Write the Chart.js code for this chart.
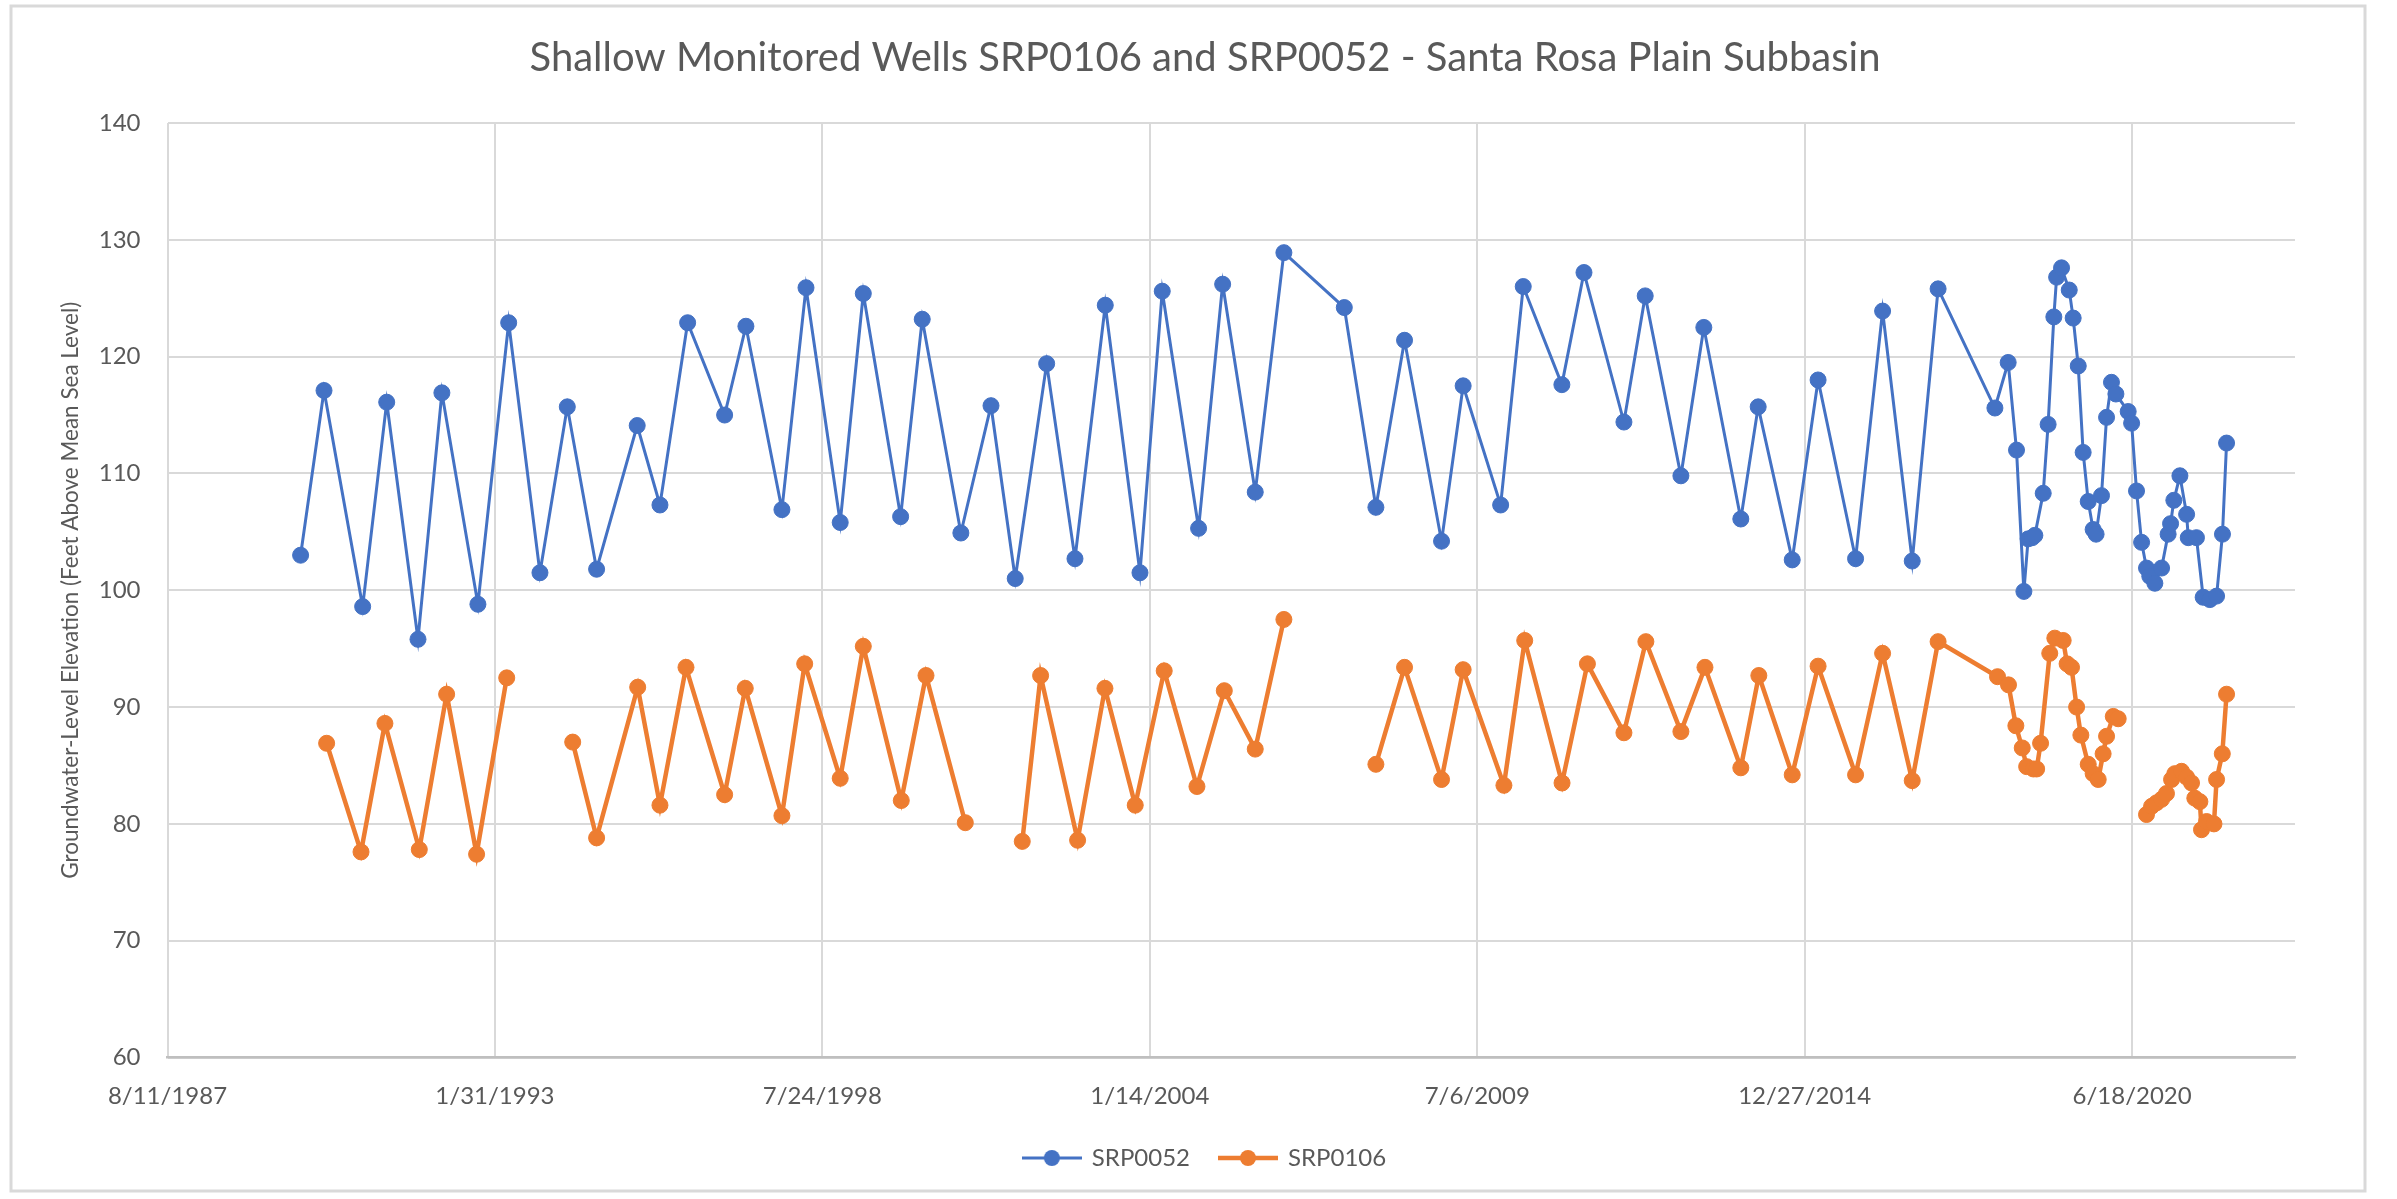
<!DOCTYPE html>
<html>
<head>
<meta charset="utf-8">
<script src="https://cdn.jsdelivr.net/npm/chart.js@4.4.1/dist/chart.umd.min.js"></script>
<style>
html,body{margin:0;padding:0;background:#fff;}
#wrap{width:2397px;height:1199px;position:relative;}
</style>
</head>
<body>
<div id="wrap"><canvas id="c" width="2397" height="1199"></canvas></div>
<script>
const chartTitle = 'Shallow Monitored Wells SRP0106 and SRP0052 - Santa Rosa Plain Subbasin';
const yAxisTitle = 'Groundwater-Level Elevation (Feet Above Mean Sea Level)';
const seriesNames = ['SRP0052', 'SRP0106'];

const xTickDates = ['1987-08-11','1993-01-31','1998-07-24','2004-01-14','2009-07-06','2014-12-27','2020-06-18'];
const xAxisStart = '1987-08-11';
const xAxisEnd = '2023-03-10';
const yMin = 60, yMax = 140, yStep = 10;

const dates0052 = ['1989-11-01','1990-03-24','1990-11-15','1991-04-11','1991-10-19','1992-03-13','1992-10-19','1993-04-25','1993-11-02','1994-04-18',
'1994-10-14','1995-06-19','1995-11-05','1996-04-22','1996-12-04','1997-04-13','1997-11-19','1998-04-15','1998-11-10','1999-03-31',
'1999-11-14','2000-03-25','2000-11-16','2001-05-19','2001-10-14','2002-04-24','2002-10-14','2003-04-17','2003-11-15','2004-03-30',
'2004-11-07','2005-04-03','2005-10-19','2006-04-12','2007-04-16','2007-10-26','2008-04-18','2008-11-30','2009-04-11','2009-11-26',
'2010-04-13','2010-12-05','2011-04-19','2011-12-19','2012-04-27','2012-12-01','2013-04-20','2013-12-02','2014-03-18','2014-10-12',
'2015-03-19','2015-11-03','2016-04-16','2016-10-14','2017-03-21','2018-03-03','2018-05-23','2018-07-13','2018-08-27','2018-09-22',
'2018-10-17','2018-11-02','2018-12-23','2019-01-22','2019-02-26','2019-03-15','2019-04-14','2019-05-31','2019-06-24','2019-07-25',
'2019-08-24','2019-09-24','2019-10-24','2019-11-11','2019-12-14','2020-01-14','2020-02-13','2020-03-11','2020-05-25','2020-06-15',
'2020-07-15','2020-08-15','2020-09-14','2020-10-04','2020-11-04','2020-12-15','2021-01-24','2021-02-08','2021-02-28','2021-04-06',
'2021-05-17','2021-05-27','2021-07-16','2021-08-26','2021-10-06','2021-11-16','2021-12-22','2022-01-16'];
const srp0052 = [103.0,117.1,98.6,116.1,95.8,116.9,98.8,122.9,101.5,115.7,
101.8,114.1,107.3,122.9,115.0,122.6,106.9,125.9,105.8,125.4,
106.3,123.2,104.9,115.8,101.0,119.4,102.7,124.4,101.5,125.6,
105.3,126.2,108.4,128.9,124.2,107.1,121.4,104.2,117.5,107.3,
126.0,117.6,127.2,114.4,125.2,109.8,122.5,106.1,115.7,102.6,
118.0,102.7,123.9,102.5,125.8,115.6,119.5,112.0,99.9,104.4,
104.5,104.7,108.3,114.2,123.4,126.8,127.6,125.7,123.3,119.2,
111.8,107.6,105.2,104.8,108.1,114.8,117.8,116.8,115.3,114.3,
108.5,104.1,101.9,101.2,100.6,101.9,104.8,105.7,107.7,109.8,
106.5,104.5,104.5,99.4,99.2,99.5,104.8,112.6];

const dates0106 = ['1990-04-09','1990-11-05','1991-03-31','1991-10-27','1992-04-11','1992-10-11','1993-04-13','1993-11-02','1994-05-21','1994-10-14',
'1995-06-22','1995-11-05','1996-04-12','1996-12-04','1997-04-09','1997-11-19','1998-04-07','1998-11-10','1999-03-31','1999-11-18',
'2000-04-17','2000-12-13','2001-05-19','2001-11-26','2002-03-18','2002-10-30','2003-04-15','2003-10-17','2004-04-11','2004-10-28',
'2005-04-13','2005-10-19','2006-04-12','2007-04-16','2007-10-26','2008-04-18','2008-11-30','2009-04-11','2009-12-16','2010-04-22',
'2010-12-06','2011-05-10','2011-12-19','2012-05-01','2012-12-01','2013-04-27','2013-12-02','2014-03-22','2014-10-12','2015-03-19',
'2015-11-03','2016-04-16','2016-10-14','2017-03-21','2018-03-19','2018-05-25','2018-07-09','2018-08-17','2018-09-13','2018-10-24',
'2018-11-13','2018-12-07','2019-02-01','2019-03-04','2019-04-24','2019-05-18','2019-06-14','2019-07-15','2019-08-10','2019-09-24',
'2019-10-24','2019-11-24','2019-12-24','2020-01-14','2020-02-24','2020-03-25','2020-06-15','2020-09-14','2020-10-15','2020-11-14',
'2020-12-15','2021-01-14','2021-02-14','2021-03-06','2021-04-16','2021-05-17','2021-06-16','2021-07-06','2021-08-06','2021-08-16',
'2021-09-16','2021-10-31','2021-11-16','2021-12-21','2022-01-16'];
const srp0106 = [86.9,77.6,88.6,77.8,91.1,77.4,92.5,null,87.0,78.8,
91.7,81.6,93.4,82.5,91.6,80.7,93.7,83.9,95.2,82.0,
92.7,80.1,null,78.5,92.7,78.6,91.6,81.6,93.1,83.2,
91.4,86.4,97.5,null,85.1,93.4,83.8,93.2,83.3,95.7,
83.5,93.7,87.8,95.6,87.9,93.4,84.8,92.7,84.2,93.5,
84.2,94.6,83.7,95.6,92.6,91.9,88.4,86.5,84.9,84.7,
84.7,86.9,94.6,95.9,95.7,93.7,93.4,90.0,87.6,85.1,
84.3,83.8,86.0,87.5,89.2,89.0,null,80.8,81.5,81.8,
82.1,82.6,83.8,84.3,84.5,84.0,83.5,82.2,81.9,79.5,
80.2,80.0,83.8,86.0,91.1];

const colors = ['#4472C4', '#ED7D31'];
const lineWidths = [3, 4.5];
const textColor = '#595959';
const fontFamily = 'Lato, "Open Sans", "Liberation Sans", sans-serif';

function toDay(s) { const p = s.split('-').map(Number); return Date.UTC(p[0], p[1] - 1, p[2]) / 86400000; }
function fmtDay(v) { const d = new Date(Math.round(v) * 86400000); return (d.getUTCMonth() + 1) + '/' + d.getUTCDate() + '/' + d.getUTCFullYear(); }
function pts(dates, vals) { return dates.map((d, i) => ({ x: toDay(d), y: vals[i] })); }

function legendMarker(color, lw) {
  const c = document.createElement('canvas');
  c.width = 60; c.height = 20;
  const g = c.getContext('2d');
  g.strokeStyle = color; g.lineWidth = lw;
  g.beginPath(); g.moveTo(0, 10); g.lineTo(60, 10); g.stroke();
  g.fillStyle = color; g.beginPath(); g.arc(30, 10, 8, 0, Math.PI * 2); g.fill();
  return c;
}

const framePlugin = {
  id: 'frame',
  beforeDraw(chart) {
    const g = chart.ctx;
    g.save();
    g.fillStyle = '#ffffff';
    g.fillRect(0, 0, chart.width, chart.height);
    g.strokeStyle = '#d9d9d9';
    g.lineWidth = 3;
    g.strokeRect(11, 6, 2354, 1185);
    g.restore();
  }
};

function draw() {
  const markers = [legendMarker(colors[0], lineWidths[0]), legendMarker(colors[1], lineWidths[1])];
  new Chart(document.getElementById('c'), {
    type: 'line',
    data: {
      datasets: [
        { label: seriesNames[0], data: pts(dates0052, srp0052), borderColor: colors[0], backgroundColor: colors[0],
          borderWidth: lineWidths[0], pointRadius: 8, pointBorderWidth: 1, pointBackgroundColor: colors[0], pointBorderColor: colors[0],
          tension: 0, spanGaps: true },
        { label: seriesNames[1], data: pts(dates0106, srp0106), borderColor: colors[1], backgroundColor: colors[1],
          borderWidth: lineWidths[1], pointRadius: 8, pointBorderWidth: 1, pointBackgroundColor: colors[1], pointBorderColor: colors[1],
          tension: 0, spanGaps: false }
      ]
    },
    options: {
      responsive: false,
      devicePixelRatio: 1,
      animation: false,
      layout: { padding: { left: 13, right: 0, top: 0, bottom: 19 } },
      plugins: {
        tooltip: { enabled: false },
        title: { display: true, text: chartTitle, color: textColor,
          font: { family: fontFamily, size: 40, weight: 'normal' }, padding: { top: 34, bottom: 41 } },
        legend: { position: 'bottom',
          labels: { usePointStyle: true, pointStyleWidth: 56, padding: 30, color: textColor,
            font: { family: fontFamily, size: 24 },
            generateLabels(chart) {
              const items = Chart.defaults.plugins.legend.labels.generateLabels(chart);
              items.forEach((it, i) => { it.pointStyle = markers[i]; it.fontColor = textColor; });
              return items;
            } } }
      },
      scales: {
        x: {
          type: 'linear', min: toDay(xAxisStart), max: toDay(xAxisEnd),
          afterBuildTicks(s) { s.ticks = xTickDates.map(d => ({ value: toDay(d) })); },
          afterFit(s) { s.height = 58.5; },
          ticks: { callback: v => fmtDay(v), color: textColor, font: { family: fontFamily, size: 24 }, padding: 24, maxRotation: 0, autoSkip: false },
          grid: { color: '#d9d9d9', lineWidth: 2, drawTicks: false },
          border: { color: '#bfbfbf', width: 2.5 }
        },
        y: {
          min: yMin, max: yMax,
          afterFit(s) { s.width = 154.5; },
          ticks: { stepSize: yStep, color: textColor, font: { family: fontFamily, size: 24 }, padding: 27 },
          grid: { color: '#d9d9d9', lineWidth: 2, drawTicks: false },
          border: { display: false },
          title: { display: true, text: yAxisTitle, color: textColor, font: { family: fontFamily, size: 22.5 }, padding: { top: 44, bottom: 0 } }
        },
        yR: {
          position: 'right', display: true,
          afterFit(s) { s.width = 102; },
          ticks: { display: false }, grid: { display: false }, border: { display: false }
        }
      }
    },
    plugins: [framePlugin]
  });
}

const fontLoads = (document.fonts && document.fonts.load) ?
  Promise.all([document.fonts.load('24px Lato'), document.fonts.load('40px Lato')]).catch(() => null) : Promise.resolve();
fontLoads.then(draw, draw);
</script>
</body>
</html>
